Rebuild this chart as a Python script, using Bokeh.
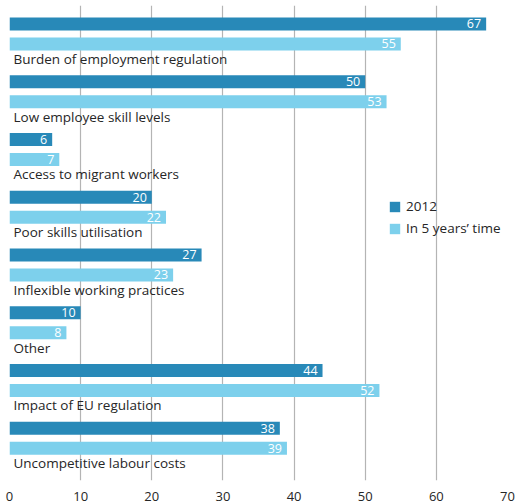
from bokeh.plotting import figure
from bokeh.models import ColumnDataSource, Range1d, Legend, LegendItem, FixedTicker
from bokeh.core.properties import value
from bokeh.embed import file_html
from bokeh.resources import INLINE

categories = [
    "Burden of employment regulation",
    "Low employee skill levels",
    "Access to migrant workers",
    "Poor skills utilisation",
    "Inflexible working practices",
    "Other",
    "Impact of EU regulation",
    "Uncompetitive labour costs",
]
values_2012 = [67, 50, 6, 20, 27, 10, 44, 38]
values_5yrs = [55, 53, 7, 22, 23, 8, 52, 39]
series_names = ["2012", "In 5 years\u2019 time"]
x_ticks = [0, 10, 20, 30, 40, 50, 60, 70]

DARK = "#2889b8"
LIGHT = "#7dd0ec"
TEXT = "#262626"
FONT = "Open Sans"

idx = list(range(len(categories)))
src = ColumnDataSource(dict(
    cat=categories,
    v1=values_2012,
    v2=values_5yrs,
    v1s=[str(v) for v in values_2012],
    v2s=[str(v) for v in values_5yrs],
    y1=[i + 0.32 for i in idx],
    y2=[i + 0.666 for i in idx],
    yl=[i + 0.925 for i in idx],
))

p = figure(width=516, height=503, output_backend="svg", toolbar_location=None,
           x_range=Range1d(0, 70), y_range=Range1d(475 / 57.75, 0),
           min_border_left=9, min_border_right=9, min_border_top=5,
           min_border_bottom=23)
p.outline_line_color = None
p.yaxis.visible = False
p.ygrid.visible = False
p.xgrid.grid_line_color = "#b4b4b4"
p.xgrid.grid_line_width = 1.2
p.xaxis.ticker = FixedTicker(ticks=x_ticks)
p.xaxis.axis_line_color = None
p.xaxis.major_tick_line_color = None
p.xaxis.minor_tick_line_color = None
p.xaxis.major_label_text_font = FONT
p.xaxis.major_label_text_font_size = "13px"
p.xaxis.major_label_text_color = TEXT
p.xaxis.major_label_standoff = 5

bh = 13 / 57.75
r1 = p.hbar(y="y1", right="v1", left=0, height=bh, source=src,
            fill_color=DARK, line_color=None)
r2 = p.hbar(y="y2", right="v2", left=0, height=bh, source=src,
            fill_color=LIGHT, line_color=None)

# value labels sit just inside the end of each bar
for vcol, ycol in (("v1", "y1"), ("v2", "y2")):
    p.text(x=vcol, y=ycol, text=vcol + "s", source=src, x_offset=-5,
           text_align="right", text_baseline="middle",
           text_font=value(FONT), text_font_size="12.5px", text_color="white")

# category names below each pair of bars
p.text(x=0, y="yl", text="cat", source=src, x_offset=4,
       text_align="left", text_baseline="middle",
       text_font=value(FONT), text_font_size="13.5px", text_color=TEXT)

legend = Legend(items=[LegendItem(label=series_names[0], renderers=[r1]),
                       LegendItem(label=series_names[1], renderers=[r2])],
                location=(379, 243), orientation="vertical",
                glyph_width=13, glyph_height=13, label_height=13,
                spacing=4, padding=0, margin=0, label_standoff=5,
                border_line_color=None, background_fill_alpha=0,
                label_text_font=FONT, label_text_font_size="13.5px",
                label_text_color=TEXT)
p.add_layout(legend, "center")

open("out.html", "w").write(file_html(p, INLINE))
